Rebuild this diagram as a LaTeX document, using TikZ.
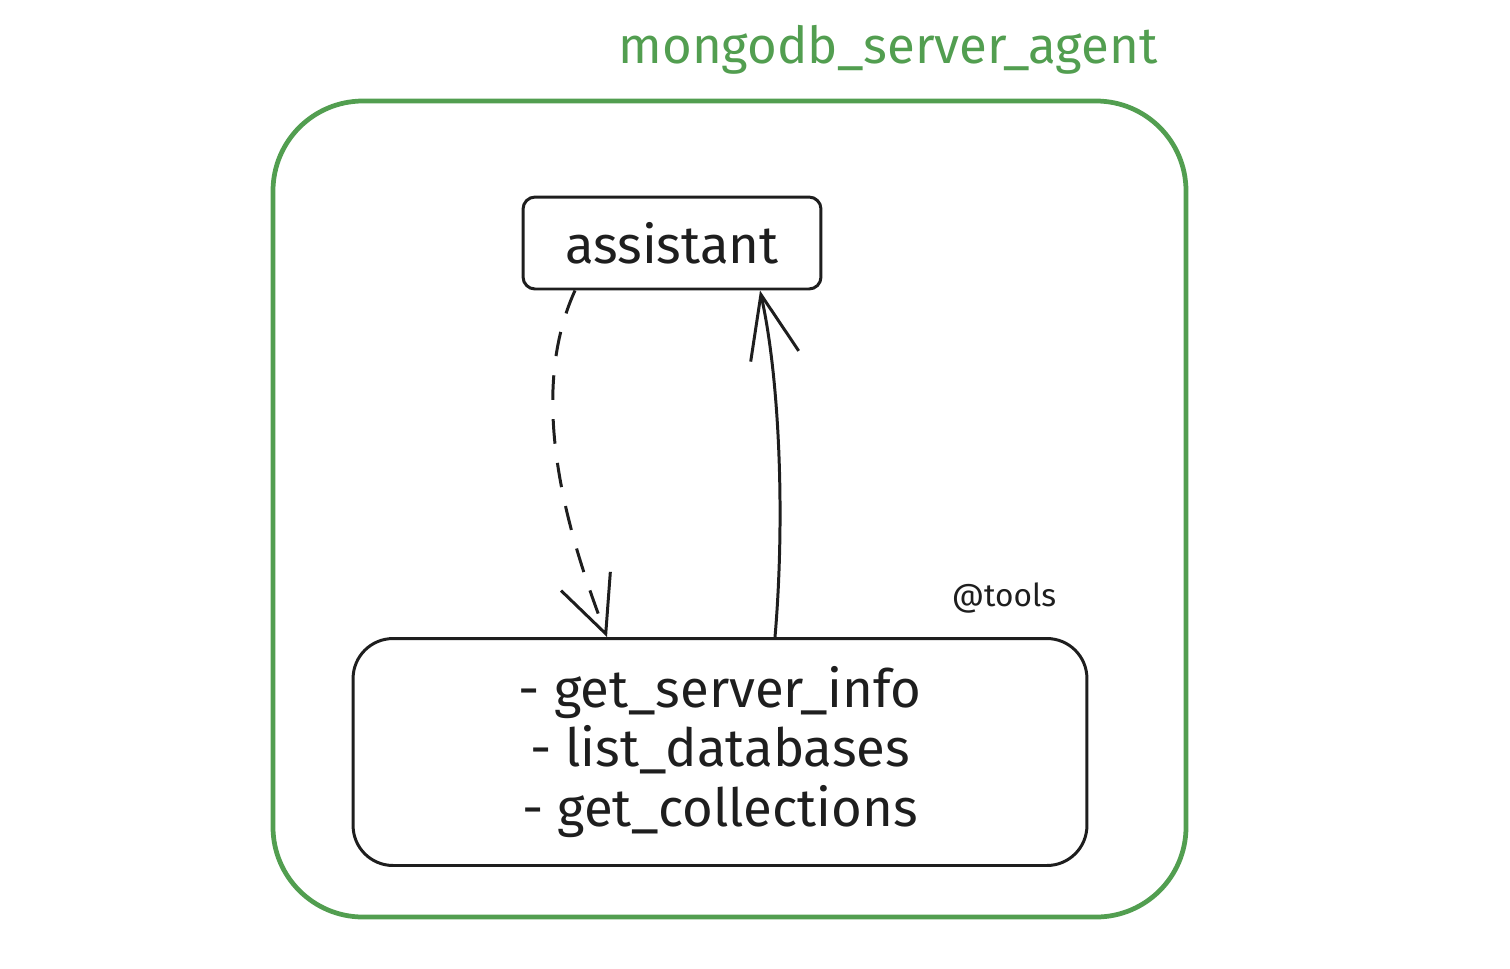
\documentclass[tikz,border=0pt]{standalone}
\usepackage{fontspec}
\setmainfont{Fira Sans}
\usetikzlibrary{arrows.meta,positioning,calc}
\definecolor{CgA}{RGB}{82,158,80}
\definecolor{CkA}{RGB}{30,30,30}
\tikzset{
abox/.style={draw=CkA, line width=1.7pt, rounded corners=0.24cm, text=CkA, minimum width=5.96cm, minimum height=1.84cm, font=\fontsize{30}{34}\selectfont},
tbox/.style={draw=CkA, line width=1.7pt, rounded corners=0.8cm, text=CkA, minimum width=14.68cm, minimum height=4.54cm, align=center, font=\fontsize{30}{34}\selectfont},
callarrow/.style={draw=CkA, line width=1.7pt, dash pattern=on 14pt off 11pt, -{Straight Barb[length=32pt, width=30pt, line width=1.7pt]}},
backarrow/.style={draw=CkA, line width=1.7pt, -{Straight Barb[length=36pt, width=28pt, line width=1.7pt]}},
}

\begin{document}
\begin{tikzpicture}[x=0.02cm, y=-0.02cm]
\useasboundingbox (0,0) rectangle (1510,968);

%% agent frame
\draw[CgA, line width=2.7pt, rounded corners=1.8cm] (273,101) rectangle (1186,917);
\node[text=CgA, font=\fontsize{29}{34}\selectfont] (title) at (888,50) {mongodb\_server\_agent};

%% nodes
\node[abox] (assistant) at (672,243) {assistant};
\node[tbox] (tools) at (720,752) {- get\_server\_info\\- list\_databases\\- get\_collections};
\node[text=CkA, font=\fontsize{18}{20}\selectfont] (toolslabel) at (1004,598) {@tools};

%% connectors
\draw[callarrow] ($(assistant.south)+(-97,0)$) .. controls (525,400) and (570,540) .. ($(tools.north)+(-113,0)$);
\draw[backarrow] ($(tools.north)+(55,0)$) .. controls (785,520) and (780,380) .. ($(assistant.south)+(88,0)$);
\end{tikzpicture}
\end{document}
